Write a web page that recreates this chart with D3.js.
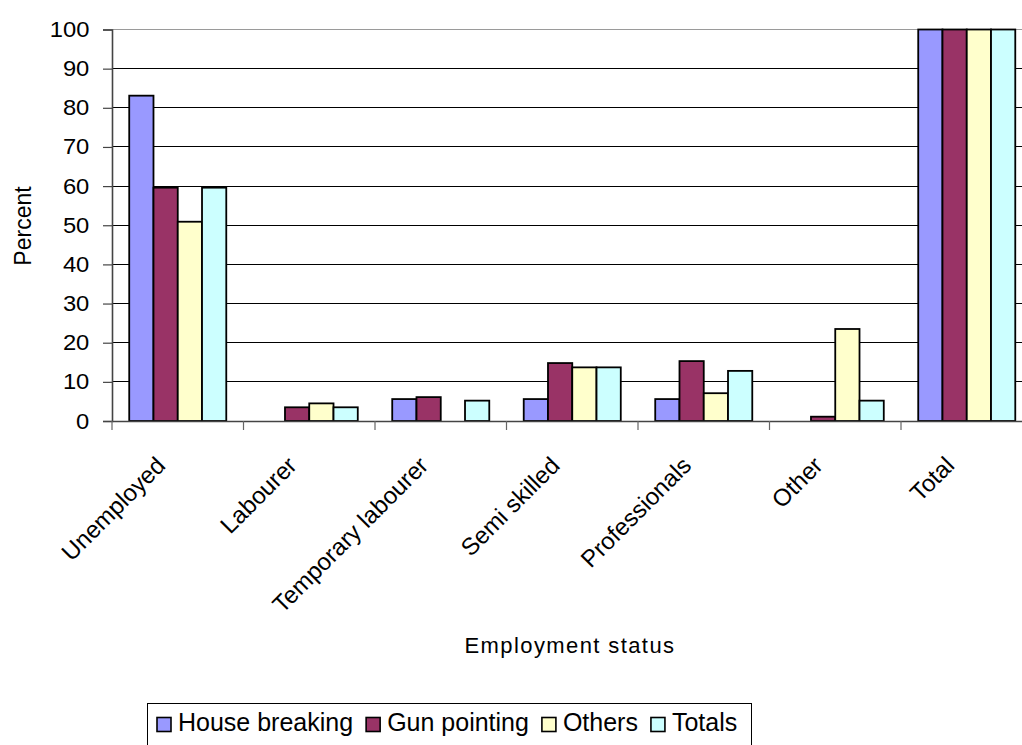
<!DOCTYPE html>
<html><head><meta charset="utf-8">
<script src="https://cdn.jsdelivr.net/npm/d3@7"></script>
<style>
html,body{margin:0;padding:0;background:#fff;}
svg{display:block;font-family:"Liberation Sans",Arial,sans-serif;}
</style></head>
<body><svg id="c" width="1022" height="745"></svg>
<script>
const categories = ["Unemployed","Labourer","Temporary labourer","Semi skilled","Professionals","Other","Total"];
const seriesNames = ["House breaking","Gun pointing","Others","Totals"];
const houseBreaking = [83.1, 0, 5.6, 5.6, 5.6, 0, 100];
const gunPointing   = [59.6, 3.5, 6.1, 14.8, 15.3, 1.1, 100];
const others        = [50.9, 4.5, 0, 13.7, 7.1, 23.5, 100];
const totals        = [59.6, 3.5, 5.2, 13.7, 12.8, 5.2, 100];
const yTicks = [0,10,20,30,40,50,60,70,80,90,100];
const colors = ["#9999FF","#993366","#FFFFCC","#CCFFFF"];

const seriesValues = [houseBreaking, gunPointing, others, totals];
const svg = d3.select("#c");
const mLeft = 112, mTop = 29.5, mBottom = 421, bandW = 131.5;
const mRight = mLeft + bandW * categories.length;

const x0 = d3.scaleBand().domain(categories).range([mLeft, mRight]).padding(0);
const x1 = d3.scaleBand().domain(seriesNames).range([0, x0.bandwidth()]).paddingInner(0).paddingOuter(0.71);
const y = d3.scaleLinear().domain([0,100]).range([mBottom, mTop]);

// gridlines
svg.append("g").selectAll("line").data(yTicks.filter(t=>t>0 && t<100)).join("line")
  .attr("x1", mLeft).attr("x2", mRight).attr("y1", d=>y(d)).attr("y2", d=>y(d))
  .attr("stroke","#000").attr("stroke-width",1).attr("shape-rendering","crispEdges");
// top border
svg.append("line").attr("x1",mLeft).attr("x2",mRight).attr("y1",y(100)).attr("y2",y(100))
  .attr("stroke","#9a9a9a").attr("stroke-width",1.2);

// bars
const rows = [];
categories.forEach((c,i)=>seriesNames.forEach((s,j)=>rows.push({c, s, j, v: seriesValues[j][i]})));
svg.append("g").selectAll("rect").data(rows.filter(d=>d.v>0)).join("rect")
  .attr("x", d=>x0(d.c)+x1(d.s)).attr("width", x1.bandwidth())
  .attr("y", d=>y(d.v)).attr("height", d=>y(0)-y(d.v))
  .attr("fill", d=>colors[d.j]).attr("stroke","#000").attr("stroke-width",1.8);

// y axis
const yAxis = svg.append("g").attr("transform",`translate(${mLeft},0)`)
  .call(d3.axisLeft(y).tickValues(yTicks).tickSize(9).tickPadding(12));
yAxis.select(".domain").attr("stroke","#444").attr("stroke-width",1.6);
yAxis.selectAll(".tick line").attr("stroke","#444").attr("stroke-width",1.2);
yAxis.selectAll("text").attr("font-size",22).attr("fill","#000")
  .attr("font-family","Liberation Sans, Arial, sans-serif")
  .attr("transform","scale(1.08,1)");

// x axis
const xAxis = svg.append("g").attr("transform",`translate(0,${mBottom})`)
  .call(d3.axisBottom(x0).tickSize(0).tickFormat(""));
xAxis.select(".domain").attr("stroke","#444").attr("stroke-width",1.6);
xAxis.selectAll(".tick").remove();
const bounds = categories.map(c=>x0(c)).concat([mRight]);
xAxis.selectAll("line.b").data(bounds).join("line").attr("class","b")
  .attr("x1",d=>d).attr("x2",d=>d).attr("y1",0).attr("y2",9)
  .attr("stroke","#666").attr("stroke-width",1.2);

svg.append("g").selectAll("text").data(categories).join("text")
  .attr("transform", d=>`translate(${x0(d)+x0.bandwidth()/2-11},467) rotate(-45)`)
  .attr("text-anchor","end").attr("font-size",24).attr("fill","#000")
  .text(d=>d);

// axis titles
svg.append("text").attr("transform","translate(31,226) rotate(-90)")
  .attr("text-anchor","middle").attr("font-size",23).text("Percent");
svg.append("text").attr("x",570).attr("y",653).attr("text-anchor","middle")
  .attr("font-size",22).attr("letter-spacing",1.4).text("Employment status");

// legend
const lg = svg.append("g");
lg.append("rect").attr("x",147.5).attr("y",703.5).attr("width",604).attr("height",80)
  .attr("fill","none").attr("stroke","#000").attr("stroke-width",1);
let lx = 157;
seriesNames.forEach((s,j)=>{
  lg.append("rect").attr("x",lx).attr("y",717.5).attr("width",14).attr("height",14)
    .attr("fill",colors[j]).attr("stroke","#000").attr("stroke-width",1.6);
  const t = lg.append("text").attr("x",lx+21).attr("y",731).attr("font-size",25).text(s);
  lx += 21 + t.node().getComputedTextLength() + 13;
});
</script></body></html>
